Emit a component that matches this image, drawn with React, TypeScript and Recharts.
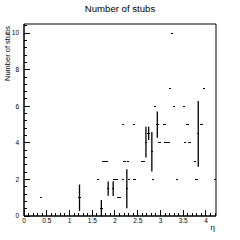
import {
  ScatterChart,
  Scatter,
  XAxis,
  YAxis,
  ErrorBar,
  ReferenceArea,
} from 'recharts';

// profile bins: eta centre, mean number of stubs, error on the mean
const etaBins = [
  0.38, 1.22, 1.62, 1.7, 1.75, 1.81, 1.85, 1.96, 1.99, 2.03, 2.06, 2.11, 2.17, 2.18,
  2.21, 2.26, 2.28, 2.31, 2.42, 2.43, 2.59, 2.64, 2.68, 2.74, 2.81, 2.83, 2.88, 2.93,
  2.98, 3.09, 3.11, 3.18, 3.21, 3.25, 3.3, 3.36, 3.52, 3.54, 3.59, 3.64, 3.76, 3.79,
  3.83, 3.9, 3.96, 4.21,
];
const stubMean = [
  1, 1.0, 2, 0.43, 3, 3, 1.5, 1.5, 2, 2, 1, 1, 5, 2,
  3, 1.49, 3, 2, 5, 2, 3, 3, 4.04, 4.52, 3.51, 2, 6, 5,
  4, 5, 4, 4, 7, 10, 6, 2, 6, 4, 5, 4, 3, 2,
  4.49, 5, 7, 2,
];
const stubErr = [
  0, 0.72, 0, 0.45, 0, 0, 0.39, 0.4, 0, 0, 0, 0, 0, 0,
  0, 1.07, 0, 0, 0, 0, 0, 0, 0.84, 0.36, 1.08, 0, 0, 0.72,
  0, 0, 0, 0, 0, 0, 0, 0, 0, 0, 0, 0, 0, 0,
  1.8, 0, 0, 0,
];

const xMajorTicks = [0, 0.5, 1, 1.5, 2, 2.5, 3, 3.5, 4];
const xLabels = ['0', '0.5', '1', '1.5', '2', '2.5', '3', '3.5', '4'];
const xMinorTicks = Array.from({ length: 43 }, (_, i) => Math.round(i) / 10);
const yMajorTicks = [0, 2, 4, 6, 8, 10];
const yLabels = ['0', '2', '4', '6', '8', '10'];
const yMinorTicks = Array.from({ length: 27 }, (_, i) => Math.round(i * 4) / 10);

const X_MAX = 4.22;
const Y_MAX = 10.5;
const GAP = 5;
const FONT = '"Liberation Sans", Arial, Helvetica, sans-serif';

const data = etaBins.map((eta, i) => ({ eta, mean: stubMean[i], err: stubErr[i] }));

const XTick = ({ x, y, payload }: any) => {
  const axisY = y - GAP;
  const v = payload.value;
  const idx = xMajorTicks.findIndex((m) => Math.abs(m - v) < 1e-6);
  const major = idx >= 0;
  return (
    <g>
      <line x1={x} x2={x} y1={axisY} y2={axisY - (major ? 6 : 3)} stroke="#000" shapeRendering="crispEdges" />
      {major && (
        <text x={x} y={axisY + 7.3} textAnchor="middle" fontSize={6.5} fontFamily={FONT} fill="#000">
          {xLabels[idx]}
        </text>
      )}
    </g>
  );
};

const YTick = ({ x, y, payload }: any) => {
  const axisX = x + GAP;
  const v = payload.value;
  const idx = yMajorTicks.findIndex((m) => Math.abs(m - v) < 1e-6);
  const major = idx >= 0;
  return (
    <g>
      <line x1={axisX} x2={axisX + (major ? 5.5 : 3)} y1={y} y2={y} stroke="#000" shapeRendering="crispEdges" />
      {major && (
        <text x={x} y={y} dy="0.35em" textAnchor="end" fontSize={6.5} fontFamily={FONT} fill="#000">
          {yLabels[idx]}
        </text>
      )}
    </g>
  );
};

const BinMark = ({ cx, cy }: any) => (
  <line x1={cx - 1.2} x2={cx + 1.2} y1={cy} y2={cy} stroke="#000" strokeWidth={1} shapeRendering="crispEdges" />
);

export default function App() {
  return (
    <div style={{ position: 'fixed', left: 0, top: 0, width: 240, height: 240, background: '#fff' }}>
      <ScatterChart width={240} height={240} margin={{ top: 24, right: 24, bottom: 0, left: 0 }}>
        <XAxis
          type="number"
          dataKey="eta"
          domain={[0, X_MAX]}
          ticks={xMinorTicks}
          interval={0}
          height={24}
          tickSize={0}
          tickMargin={GAP}
          tickLine={false}
          axisLine={{ stroke: '#000' }}
          tick={<XTick />}
          allowDataOverflow
        />
        <YAxis
          type="number"
          dataKey="mean"
          domain={[0, Y_MAX]}
          ticks={yMinorTicks}
          interval={0}
          width={24}
          tickSize={0}
          tickMargin={GAP}
          tickLine={false}
          axisLine={{ stroke: '#000' }}
          tick={<YTick />}
          allowDataOverflow
        />
        <ReferenceArea x1={0} x2={X_MAX} y1={0} y2={Y_MAX} fill="none" stroke="#000" strokeWidth={1} ifOverflow="visible" />
        <Scatter data={data} shape={<BinMark />} isAnimationActive={false}>
          <ErrorBar dataKey="err" direction="y" width={0} stroke="#000" strokeWidth={1.3} />
        </Scatter>
      </ScatterChart>
      <svg width={240} height={240} style={{ position: 'absolute', left: 0, top: 0, pointerEvents: 'none' }}>
        <text x={120} y={11.5} textAnchor="middle" fontSize={9.6} fontFamily={FONT} fill="#000">
          Number of stubs
        </text>
        <text transform="rotate(-90)" x={-26} y={10} textAnchor="end" fontSize={7.5} fontFamily={FONT} fill="#000">
          Number of stubs
        </text>
        <text x={215} y={229.5} textAnchor="end" fontSize={8} fontFamily={FONT} fill="#000">
          η
        </text>
      </svg>
    </div>
  );
}
